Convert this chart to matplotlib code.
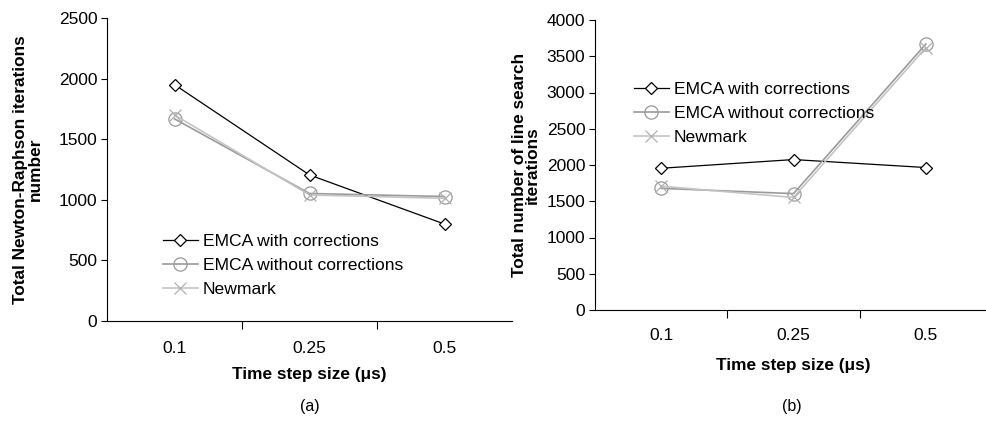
import matplotlib
matplotlib.use("Agg")
import matplotlib.pyplot as plt

plt.rcParams['font.family'] = ['Liberation Sans', 'DejaVu Sans']

steps = ["0.1", "0.25", "0.5"]
series_names = ["EMCA with corrections", "EMCA without corrections", "Newmark"]

# (a) Newton-Raphson iterations
nr_with = [1950, 1205, 800]
nr_without = [1668, 1052, 1027]
nr_newmark = [1700, 1040, 1012]

# (b) line search iterations
ls_with = [1955, 2075, 1965]
ls_without = [1678, 1605, 3668]
ls_newmark = [1708, 1552, 3618]

styles = [
    dict(color='black', marker='D', markersize=6.5, markerfacecolor='white',
         markeredgecolor='black', linewidth=0.9, markeredgewidth=0.9),
    dict(color='#9a9a9a', marker='o', markersize=9.5, markerfacecolor='none',
         markeredgecolor='#9a9a9a', linewidth=1.2, markeredgewidth=0.9),
    dict(color='#c4c4c4', marker='x', markersize=8.5,
         markeredgecolor='#b0b0b0', linewidth=1.2, markeredgewidth=0.9),
]

W, H = 986, 430
fig = plt.figure(figsize=(W / 100, H / 100), dpi=100)


def setup(ax, ymax, ystep, ylabel, tick_pad, xlab_pad, ylabel_x, linesp):
    x = range(len(steps))
    ax.set_xlim(-0.5, 2.5)
    ax.set_ylim(0, ymax)
    ax.set_yticks(range(0, ymax + 1, ystep))
    ax.set_xticks(list(x))
    ax.set_xticklabels(steps)
    ax.set_xticks([0.5, 1.5], minor=True)
    ax.tick_params(axis='x', which='major', length=0, pad=tick_pad, labelsize=12.5)
    ax.tick_params(axis='x', which='minor', length=6, width=0.8, direction='out')
    ax.tick_params(axis='y', length=4, width=0.8, direction='out', labelsize=12.5, pad=3)
    for s in ['top', 'right']:
        ax.spines[s].set_visible(False)
    for s in ['left', 'bottom']:
        ax.spines[s].set_linewidth(0.8)
    ax.set_xlabel("Time step size (\u03bcs)", fontsize=12.4, fontweight='bold',
                  labelpad=xlab_pad)
    ax.set_ylabel(ylabel, fontsize=12.4, fontweight='bold', linespacing=linesp)
    ax.yaxis.set_label_coords(ylabel_x, 0.5)


ax1 = fig.add_axes([107 / W, 1 - 321 / H, 405 / W, 303 / H])
for vals, name, st in zip([nr_with, nr_without, nr_newmark], series_names, styles):
    ax1.plot(range(len(steps)), vals, label=name, **st)
setup(ax1, 2500, 500, "Total Newton-Raphson iterations\nnumber", 14.5, 7.5, -0.158, 1.0)
ax1.legend(loc='upper left', bbox_to_anchor=(0.12, 0.31), frameon=False,
           fontsize=12.6, handlelength=2.0, handletextpad=0.3, labelspacing=0.5,
           borderaxespad=0)
fig.text(310 / W, 1 - 407 / H, "(a)", ha='center', va='center', fontsize=11.5)

ax2 = fig.add_axes([595 / W, 1 - 310 / H, 397 / W, 290 / H])
for vals, name, st in zip([ls_with, ls_without, ls_newmark], series_names, styles):
    ax2.plot(range(len(steps)), vals, label=name, **st)
setup(ax2, 4000, 500, "Total number of line search\niterations", 13, 10.5, -0.139, 0.8)
ax2.legend(loc='upper left', bbox_to_anchor=(0.08, 0.81), frameon=False,
           fontsize=12.6, handlelength=2.0, handletextpad=0.3, labelspacing=0.5,
           borderaxespad=0)
fig.text(792 / W, 1 - 407 / H, "(b)", ha='center', va='center', fontsize=11.5)

fig.savefig("out.png", dpi=100)
